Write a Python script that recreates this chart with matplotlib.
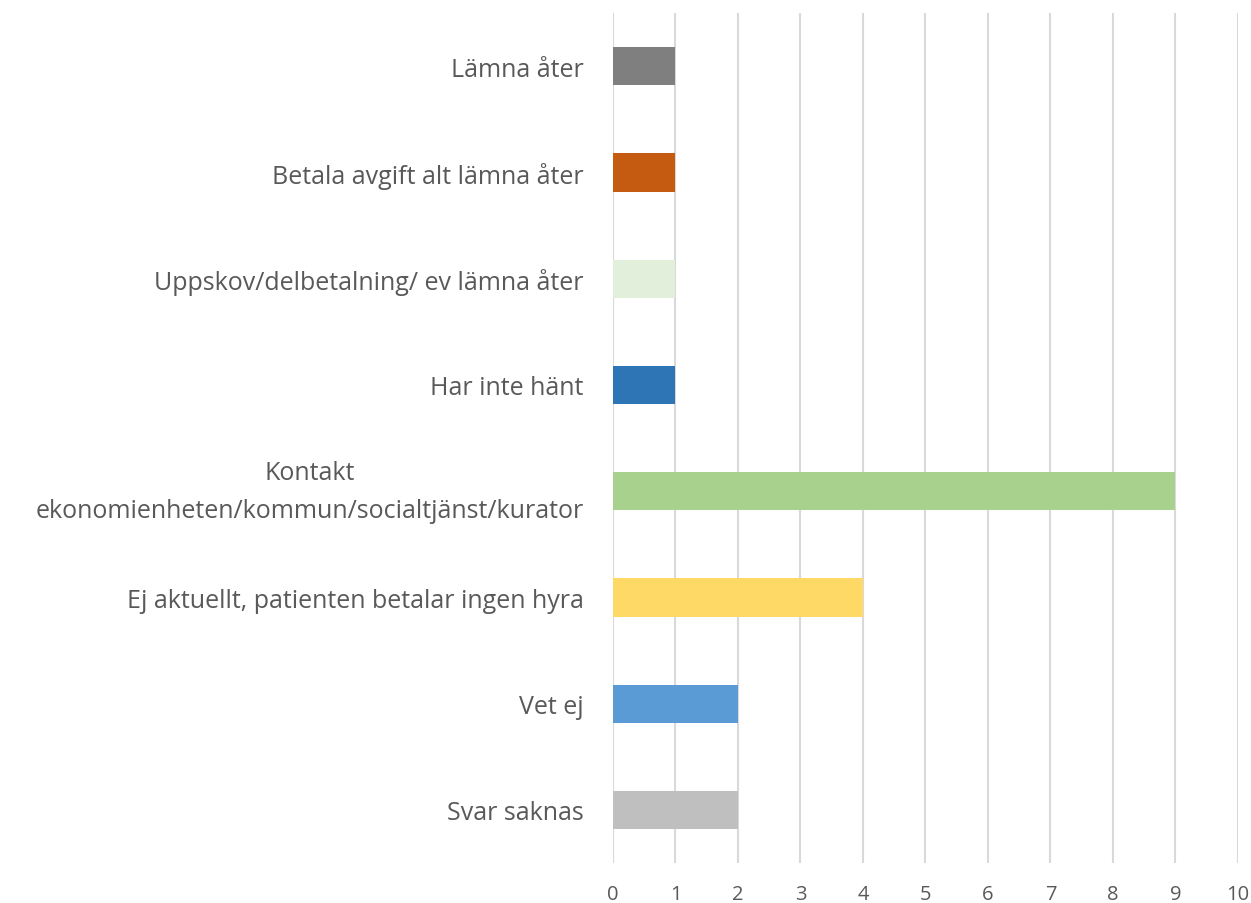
import matplotlib
matplotlib.use("Agg")
import matplotlib.pyplot as plt

categories = [
    "Lämna åter",
    "Betala avgift alt lämna åter",
    "Uppskov/delbetalning/ ev lämna åter",
    "Har inte hänt",
    "Kontakt\nekonomienheten/kommun/socialtjänst/kurator",
    "Ej aktuellt, patienten betalar ingen hyra",
    "Vet ej",
    "Svar saknas",
]
values = [1, 1, 1, 1, 9, 4, 2, 2]
colors = ["#7f7f7f", "#c55a11", "#e2efda", "#2e75b6", "#a9d18e", "#ffd966", "#5b9bd5", "#bfbfbf"]
xticks = list(range(0, 11))

plt.rcParams['font.family'] = ['Open Sans', 'DejaVu Sans']
fig = plt.figure(figsize=(12.51, 9.04), dpi=100)
ax = fig.add_axes([0.49, 0.0442, 0.4996, 0.9403])

n = len(categories)
ypos = list(range(n))
ax.barh(ypos, values, height=0.36, color=colors, zorder=3)
ax.set_ylim(n - 0.5, -0.5)
ax.set_xlim(0, 10)
ax.set_xticks(xticks)
ax.set_xticklabels([str(t) for t in xticks], fontsize=14.5, color="#595959")
ax.set_yticks(ypos)
ax.set_yticklabels(categories, fontsize=18, color="#595959", linespacing=1.7)
ax.tick_params(axis="y", length=0, pad=21)
ax.tick_params(axis="x", length=0, pad=15)
for lbl in ax.get_yticklabels():
    lbl.set_multialignment("center")
    if "\n" in lbl.get_text():
        lbl.set_va("center")

ax.grid(axis="x", color="#d9d9d9", linewidth=1.5, zorder=0)
for s in ax.spines.values():
    s.set_visible(False)

fig.savefig("out.png", dpi=100)
